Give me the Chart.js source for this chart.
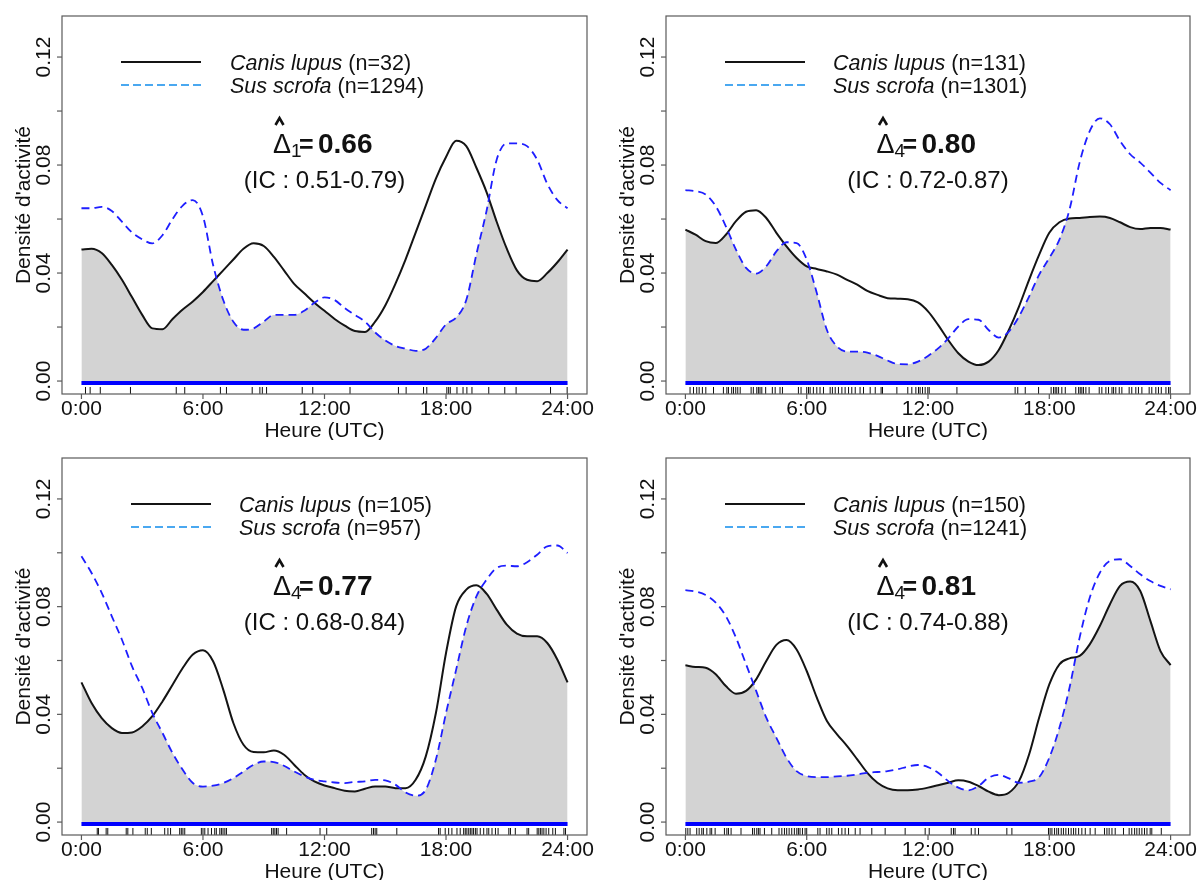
<!DOCTYPE html>
<html lang="fr">
<head>
<meta charset="utf-8">
<title>Densité d'activité - Canis lupus / Sus scrofa</title>
<script src="https://cdn.jsdelivr.net/npm/chart.js@4.4.1/dist/chart.umd.min.js"></script>
<style>
  html, body { margin: 0; padding: 0; background: #fff; }
  #figure { position: relative; width: 1201px; height: 880px; overflow: hidden; background: #fff; }
  #figure canvas { position: absolute; }
</style>
</head>
<body>
<div id="figure">
  <canvas id="panel1" width="600" height="440" style="left:0;top:0"></canvas>
  <canvas id="panel2" width="601" height="440" style="left:600px;top:0"></canvas>
  <canvas id="panel3" width="600" height="440" style="left:0;top:440px"></canvas>
  <canvas id="panel4" width="601" height="440" style="left:600px;top:440px"></canvas>
</div>
<script>
// ============================================
// DONNÉES
// ============================================

// heures de la journée (UTC) où les densités sont lues
const HEURES = [0, 0.5, 1, 1.5, 2, 2.5, 3, 3.5, 4, 4.5, 5, 5.5, 6, 6.5, 7, 7.5, 8, 8.5, 9, 9.5,
    10, 10.5, 11, 11.5, 12, 12.5, 13, 13.5, 14, 14.5, 15, 15.5, 16, 16.5, 17, 17.5, 18, 18.5, 19, 19.5,
    20, 20.5, 21, 21.5, 22, 22.5, 23, 23.5, 24];

// Panneau 1
const lupus1 = [0.0487, 0.049, 0.0474, 0.043, 0.0375, 0.031, 0.0245, 0.0195, 0.0192, 0.023, 0.0265, 0.0295,
    0.033, 0.037, 0.041, 0.045, 0.049, 0.051, 0.050, 0.046, 0.041, 0.036, 0.0325, 0.029, 0.026, 0.023,
    0.0205, 0.0185, 0.0182, 0.022, 0.028, 0.036, 0.045, 0.055, 0.065, 0.075, 0.083, 0.089, 0.087, 0.079,
    0.070, 0.059, 0.049, 0.041, 0.0375, 0.037, 0.040, 0.044, 0.0487];
const scrofa1 = [0.064, 0.064, 0.0645, 0.063, 0.059, 0.055, 0.0525, 0.051, 0.054, 0.060, 0.065, 0.067,
    0.061, 0.043, 0.030, 0.022, 0.019, 0.0195, 0.022, 0.0245, 0.0245, 0.0245, 0.026, 0.029, 0.031, 0.030,
    0.027, 0.0245, 0.022, 0.018, 0.015, 0.013, 0.012, 0.0112, 0.012, 0.016, 0.021, 0.0235, 0.030, 0.047,
    0.063, 0.082, 0.088, 0.088, 0.087, 0.082, 0.073, 0.067, 0.064];

// Panneau 2
const lupus2 = [0.0561, 0.0542, 0.0518, 0.0511, 0.0542, 0.0592, 0.0627, 0.0633, 0.0604, 0.0549, 0.0499, 0.0456,
    0.0425, 0.0415, 0.0406, 0.0394, 0.0375, 0.0357, 0.0334, 0.0319, 0.0307, 0.0305, 0.0303, 0.0291, 0.0258,
    0.0208, 0.0152, 0.0103, 0.0072, 0.0059, 0.0072, 0.0115, 0.0189, 0.0276, 0.0375, 0.0468, 0.0549, 0.0588,
    0.0602, 0.0604, 0.0608, 0.0609, 0.0604, 0.0588, 0.057, 0.0563, 0.0567, 0.0567, 0.0561];
const scrofa2 = [0.0707, 0.0703, 0.0691, 0.0648, 0.0573, 0.0487, 0.0419, 0.0398, 0.0425, 0.048, 0.0514, 0.0511,
    0.045, 0.0326, 0.0189, 0.0128, 0.0109, 0.0109, 0.0105, 0.0093, 0.0076, 0.0063, 0.0062, 0.0072, 0.0093,
    0.0121, 0.0158, 0.0202, 0.0229, 0.0227, 0.0189, 0.0161, 0.0183, 0.0239, 0.0313, 0.0394, 0.0456, 0.0524,
    0.0635, 0.0809, 0.0926, 0.0973, 0.0951, 0.0889, 0.084, 0.0809, 0.0772, 0.0734, 0.0707];

// Panneau 3
const lupus3 = [0.0519, 0.0442, 0.0386, 0.0349, 0.0331, 0.0333, 0.0355, 0.0393, 0.0448, 0.051, 0.0572, 0.0622,
    0.0638, 0.0597, 0.0492, 0.0368, 0.0287, 0.026, 0.0259, 0.0266, 0.025, 0.0213, 0.0176, 0.0151, 0.0136,
    0.0126, 0.0116, 0.0114, 0.0124, 0.0132, 0.0132, 0.0126, 0.0126, 0.0157, 0.0244, 0.0405, 0.0628, 0.0801,
    0.0863, 0.0879, 0.0848, 0.0789, 0.0733, 0.07, 0.069, 0.069, 0.0665, 0.0603, 0.0519];
const scrofa3 = [0.0987, 0.0925, 0.0851, 0.0764, 0.0677, 0.0578, 0.0498, 0.0405, 0.0331, 0.0256, 0.0194, 0.0145,
    0.0132, 0.0135, 0.0145, 0.0163, 0.0188, 0.0213, 0.0225, 0.0223, 0.0209, 0.0188, 0.017, 0.0157, 0.0151,
    0.0147, 0.0145, 0.0149, 0.0151, 0.0157, 0.0155, 0.0139, 0.011, 0.0098, 0.012, 0.0232, 0.0405, 0.0566,
    0.0727, 0.0838, 0.09, 0.0944, 0.0952, 0.095, 0.0965, 0.0993, 0.1024, 0.1027, 0.0999];

// Panneau 4
const lupus4 = [0.0582, 0.0576, 0.0573, 0.0549, 0.0505, 0.0477, 0.0487, 0.053, 0.0598, 0.0658, 0.0676, 0.0641,
    0.0561, 0.0462, 0.0375, 0.0326, 0.0282, 0.0233, 0.0183, 0.0146, 0.0125, 0.0118, 0.0118, 0.0121, 0.0128,
    0.0137, 0.0146, 0.0155, 0.015, 0.0134, 0.0113, 0.01, 0.0109, 0.0152, 0.0251, 0.0388, 0.0511, 0.0586,
    0.0608, 0.0617, 0.066, 0.0728, 0.0809, 0.0877, 0.0893, 0.0858, 0.0747, 0.0635, 0.0583];
const scrofa4 = [0.0861, 0.0856, 0.0843, 0.0815, 0.0765, 0.0685, 0.0586, 0.0487, 0.0388, 0.0313, 0.0239, 0.0189,
    0.0171, 0.0167, 0.0167, 0.017, 0.0172, 0.0177, 0.0183, 0.0186, 0.0189, 0.0196, 0.0206, 0.0212, 0.0204,
    0.0183, 0.0152, 0.0128, 0.0118, 0.0134, 0.0165, 0.0175, 0.0162, 0.0146, 0.015, 0.0167, 0.0239, 0.035,
    0.0499, 0.0685, 0.0833, 0.0926, 0.097, 0.0976, 0.0951, 0.092, 0.0895, 0.0877, 0.0864];

// Heures des détections de loup (rug noir)
const rugLupus1 = [0.2, 0.43, 0.93, 2.42, 4.68, 5.1, 6.86, 7.16, 8.43, 8.81, 8.93, 9.14, 10.9, 11.42, 13.26,
    15.65, 16.03, 16.89, 17.05, 18.04, 18.13, 18.21, 18.54, 18.84, 19.03, 19.28, 20.11, 20.9, 21.46, 23.16, 23.98];
const rugLupus2 = [0.23, 0.4, 0.56, 0.68, 0.84, 1.01, 1.39, 1.88, 2.05, 2.13, 2.29, 2.38, 2.49, 2.59, 2.71,
    3.25, 3.36, 3.53, 3.61, 3.69, 3.78, 3.97, 4.3, 4.44, 4.68, 4.8, 5.59, 5.72, 6.0, 6.09, 6.17, 6.33, 6.5,
    6.66, 6.83, 7.16, 7.27, 7.41, 7.57, 7.74, 7.9, 8.07, 8.23, 8.4, 8.64, 8.81, 9.14, 9.39, 9.68, 9.75,
    10.46, 11.0, 11.2, 11.4, 11.53, 11.61, 11.73, 11.86, 11.99, 12.06, 13.43, 16.31, 16.44, 16.81, 17.47,
    18.09, 18.21, 18.29, 18.37, 18.46, 18.62, 18.79, 19.31, 19.45, 19.53, 19.61, 19.69, 19.81, 19.97,
    20.47, 20.6, 20.8, 20.93, 21.1, 21.18, 21.29, 21.46, 21.59, 21.95, 22.08, 22.28, 22.41, 22.58,
    22.94, 23.07, 23.27, 23.4, 23.54, 23.77, 23.9, 23.98];
const rugLupus3 = [0.78, 0.84, 1.22, 1.3, 2.21, 2.29, 2.54, 3.15, 3.25, 3.45, 4.11, 4.27, 4.4, 4.85, 4.93,
    5.01, 5.1, 5.92, 6.0, 6.09, 6.25, 6.42, 6.58, 6.66, 6.83, 6.91, 6.99, 7.08, 7.16, 9.39, 9.47, 9.55,
    9.63, 9.71, 10.13, 11.78, 12.11, 14.33, 14.42, 14.5, 14.58, 15.57, 17.63, 17.71, 17.96, 18.13, 18.29,
    18.54, 18.7, 18.87, 18.95, 19.03, 19.12, 19.2, 19.28, 19.36, 19.45, 19.53, 19.69, 19.86, 20.02, 20.11,
    20.27, 20.44, 20.57, 21.1, 21.18, 21.42, 22.0, 22.08, 22.5, 22.58, 22.66, 22.74, 22.83, 22.94, 23.07,
    23.27, 23.4, 23.82, 23.9];
const rugLupus4 = [0.02, 0.12, 0.23, 0.56, 0.68, 0.81, 0.89, 1.06, 1.22, 1.3, 1.47, 1.93, 2.05, 2.13, 2.26,
    2.75, 3.32, 3.41, 3.53, 3.61, 3.69, 3.91, 4.27, 4.63, 4.77, 4.9, 5.01, 5.13, 5.26, 5.39, 5.51, 5.59,
    5.67, 5.79, 5.92, 6.0, 6.55, 6.66, 6.99, 7.11, 7.24, 7.57, 7.74, 7.9, 8.07, 8.4, 8.64, 9.22, 9.88,
    10.87, 11.86, 12.06, 13.15, 13.26, 13.34, 14.14, 14.33, 14.5, 15.9, 16.15, 17.96, 18.04, 18.13, 18.26,
    18.37, 18.46, 18.59, 18.7, 18.82, 18.95, 19.08, 19.2, 19.31, 19.45, 19.61, 19.78, 20.02, 20.27, 20.73,
    20.85, 20.96, 21.1, 21.26, 21.67, 21.95, 22.08, 22.22, 22.33, 22.45, 22.58, 22.71, 22.83, 22.99,
    23.07, 23.54];

// Détections du sanglier : bande continue sur toute la journée
const rugScrofaPlage = [0, 24];

// Axes
const xTicks = [0, 6, 12, 18, 24];
const xTickLabels = ['0:00', '6:00', '12:00', '18:00', '24:00'];
const yTicks = [0, 0.02, 0.04, 0.06, 0.08, 0.10, 0.12];
const yTickLabels = ['0.00', '', '0.04', '', '0.08', '', '0.12'];

// Textes des panneaux
const nLupus = [32, 131, 105, 150];
const nScrofa = [1294, 1301, 957, 1241];
const deltaIndice = ['1', '4', '4', '4'];
const deltaValeur = ['0.66', '0.80', '0.77', '0.81'];
const icBornes = ['0.51-0.79', '0.72-0.87', '0.68-0.84', '0.74-0.88'];

// ============================================
// STYLE
// ============================================
const NOIR = '#141414';
const BLEU = '#1e1eff';
const BLEU_LEGENDE = '#4aa8f0';
const GRIS = '#d3d3d3';
const TEXTE = '#111';
const POLICE = '"Liberation Sans", Arial, sans-serif';

// mise en page de chaque panneau (cadre + légende)
const MISE_EN_PAGE = [
    { padding: { left: 62, top: 16, right: 13, bottom: 46 }, legLigne: 59, legTexte: 168 },
    { padding: { left: 66, top: 16, right: 11, bottom: 46 }, legLigne: 59, legTexte: 167 },
    { padding: { left: 62, top: 18, right: 13, bottom: 45 }, legLigne: 69, legTexte: 177 },
    { padding: { left: 66, top: 18, right: 11, bottom: 45 }, legLigne: 59, legTexte: 167 }
];

/**
 * Plugin : cadre, graduations, titres, légende et indice de recouvrement (façon R)
 */
const decorR = {
    id: 'decorR',
    afterDraw(chart) {
        const i = chart.options.plugins.decorR.panneau;
        const mp = MISE_EN_PAGE[i];
        const { ctx, chartArea: a, scales: { x, y } } = chart;

        ctx.save();
        ctx.fillStyle = TEXTE;
        ctx.strokeStyle = '#5a5a5a';
        ctx.lineWidth = 1.2;

        // Cadre
        ctx.strokeRect(a.left, a.top, a.right - a.left, a.bottom - a.top);

        // Axe x
        ctx.font = '21px ' + POLICE;
        ctx.textAlign = 'center';
        ctx.textBaseline = 'alphabetic';
        xTicks.forEach((t, k) => {
            const px = x.getPixelForValue(t);
            ctx.beginPath();
            ctx.moveTo(px, a.bottom);
            ctx.lineTo(px, a.bottom + 5);
            ctx.stroke();
            ctx.fillText(xTickLabels[k], px, a.bottom + 21);
        });
        ctx.fillText('Heure (UTC)', x.getPixelForValue(12), a.bottom + 43);

        // Axe y
        yTicks.forEach((t, k) => {
            const py = y.getPixelForValue(t);
            ctx.beginPath();
            ctx.moveTo(a.left - 5, py);
            ctx.lineTo(a.left, py);
            ctx.stroke();
            if (yTickLabels[k]) {
                ctx.save();
                ctx.translate(a.left - 12, py);
                ctx.rotate(-Math.PI / 2);
                ctx.fillText(yTickLabels[k], 0, 0);
                ctx.restore();
            }
        });
        ctx.save();
        ctx.translate(a.left - 32, (a.top + a.bottom) / 2);
        ctx.rotate(-Math.PI / 2);
        ctx.fillText("Densité d'activité", 0, 0);
        ctx.restore();

        // Légende
        const ly1 = a.top + 46;
        const ly2 = a.top + 69;
        const lx = a.left + mp.legLigne;
        ctx.lineWidth = 2;
        ctx.strokeStyle = NOIR;
        ctx.beginPath();
        ctx.moveTo(lx, ly1);
        ctx.lineTo(lx + 80, ly1);
        ctx.stroke();
        ctx.lineWidth = 1.8;
        ctx.strokeStyle = BLEU_LEGENDE;
        ctx.setLineDash([8, 4]);
        ctx.beginPath();
        ctx.moveTo(lx, ly2);
        ctx.lineTo(lx + 80, ly2);
        ctx.stroke();
        ctx.setLineDash([]);

        ctx.textAlign = 'left';
        const ecrireLegende = (espece, n, yy) => {
            const tx = a.left + mp.legTexte;
            ctx.font = 'italic 21.5px ' + POLICE;
            ctx.fillText(espece, tx, yy + 7.5);
            const w = ctx.measureText(espece).width;
            ctx.font = '21.5px ' + POLICE;
            ctx.fillText(' (n=' + n + ')', tx + w, yy + 7.5);
        };
        ecrireLegende('Canis lupus', nLupus[i], ly1);
        ecrireLegende('Sus scrofa', nScrofa[i], ly2);

        // Indice de recouvrement Δ̂ (bloc centré sur 12:00)
        const x0 = x.getPixelForValue(12) - 51.5;
        const yb = a.top + 137;
        ctx.font = '27px ' + POLICE;
        ctx.fillText('\u0394', x0, yb);
        // chapeau
        ctx.lineWidth = 2.6;
        ctx.strokeStyle = TEXTE;
        ctx.lineJoin = 'miter';
        ctx.beginPath();
        ctx.moveTo(x0 + 2.5, yb - 28);
        ctx.lineTo(x0 + 6.5, yb - 35);
        ctx.lineTo(x0 + 10.5, yb - 28);
        ctx.stroke();
        ctx.font = '19px ' + POLICE;
        ctx.fillText(deltaIndice[i], x0 + 18, yb + 4);
        ctx.font = 'bold 25px ' + POLICE;
        ctx.fillText('=', x0 + 26, yb);
        ctx.font = 'bold 28px ' + POLICE;
        ctx.fillText(deltaValeur[i], x0 + 45, yb);

        // Intervalle de confiance
        ctx.font = '24px ' + POLICE;
        ctx.textAlign = 'center';
        ctx.fillText('(IC : ' + icBornes[i] + ')', x.getPixelForValue(12), a.top + 172);

        ctx.restore();
    }
};

/**
 * Construit un panneau de densité d'activité
 */
function creerPanneau(i, lupus, scrofa, rugLupus) {
    const courbe = serie => HEURES.map((h, k) => ({ x: h, y: serie[k] }));
    const transparent = 'rgba(0,0,0,0)';

    return new Chart(document.getElementById('panel' + (i + 1)), {
        type: 'line',
        data: {
            datasets: [
                {   // Sus scrofa (pointillés bleus, au-dessus)
                    data: courbe(scrofa),
                    borderColor: BLEU,
                    borderWidth: 1.8,
                    borderDash: [8, 5],
                    cubicInterpolationMode: 'monotone',
                    pointRadius: 0,
                    fill: false,
                    order: 1
                },
                {   // Canis lupus (trait noir)
                    data: courbe(lupus),
                    borderColor: NOIR,
                    borderWidth: 2,
                    cubicInterpolationMode: 'monotone',
                    pointRadius: 0,
                    fill: false,
                    order: 2
                },
                {   // rug des détections de loup
                    type: 'scatter',
                    data: rugLupus.map(h => ({ x: h, y: -0.0035 })),
                    pointStyle: 'line',
                    pointRotation: 90,
                    pointRadius: 3.5,
                    pointBorderColor: '#111',
                    pointBorderWidth: 1,
                    borderColor: '#111',
                    order: 3
                },
                {   // rug des détections de sanglier
                    data: rugScrofaPlage.map(h => ({ x: h, y: -0.00074 })),
                    borderColor: '#0000ff',
                    borderWidth: 4,
                    pointRadius: 0,
                    fill: false,
                    order: 4
                },
                {   // masque blanc au-dessus de la courbe du sanglier
                    data: courbe(scrofa),
                    borderColor: transparent,
                    borderWidth: 0,
                    cubicInterpolationMode: 'monotone',
                    pointRadius: 0,
                    backgroundColor: '#fff',
                    fill: 'end',
                    order: 5
                },
                {   // aire grise sous la courbe du loup => recouvrement
                    data: courbe(lupus),
                    borderColor: transparent,
                    borderWidth: 0,
                    cubicInterpolationMode: 'monotone',
                    pointRadius: 0,
                    backgroundColor: GRIS,
                    fill: 'origin',
                    order: 6
                }
            ]
        },
        options: {
            responsive: false,
            animation: false,
            devicePixelRatio: 1,
            layout: { padding: MISE_EN_PAGE[i].padding },
            scales: {
                x: { type: 'linear', min: -0.96, max: 24.96, display: false },
                y: { type: 'linear', min: -0.0048, max: 0.1352, display: false }
            },
            plugins: {
                legend: { display: false },
                tooltip: { enabled: false },
                decorR: { panneau: i }
            }
        },
        plugins: [decorR]
    });
}

creerPanneau(0, lupus1, scrofa1, rugLupus1);
creerPanneau(1, lupus2, scrofa2, rugLupus2);
creerPanneau(2, lupus3, scrofa3, rugLupus3);
creerPanneau(3, lupus4, scrofa4, rugLupus4);
</script>
</body>
</html>
